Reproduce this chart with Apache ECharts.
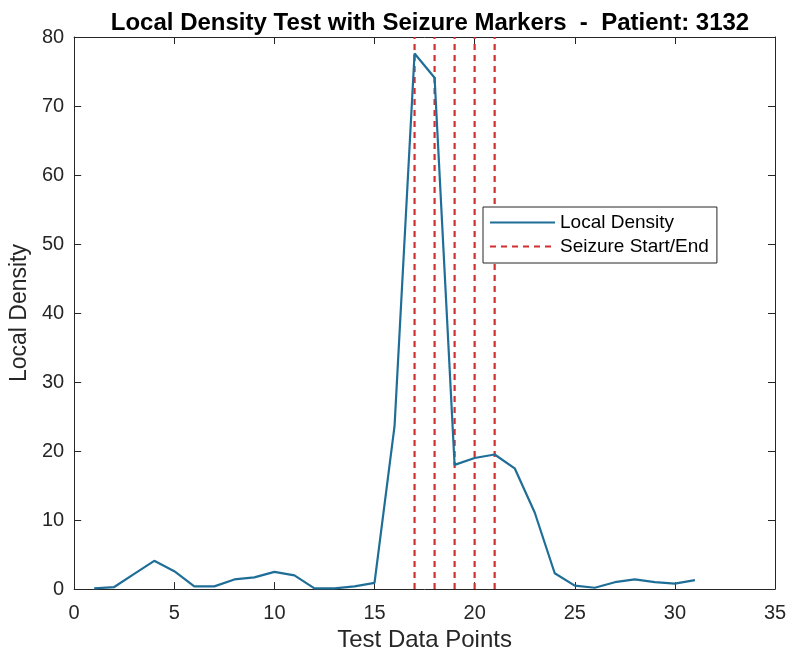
<!DOCTYPE html>
<html>
<head>
<meta charset="utf-8">
<script src="https://cdn.jsdelivr.net/npm/echarts@6/dist/echarts.min.js"></script>
<style>html,body{margin:0;padding:0;background:#fff;}#c{width:790px;height:657px;}</style>
</head>
<body>
<div id="c"></div>
<script>
var xPoints = [1,2,3,4,5,6,7,8,9,10,11,12,13,14,15,16,17,18,19,20,21,22,23,24,25,26,27,28,29,30,31];
var density = [0.1,0.3,2.2,4.1,2.6,0.4,0.4,1.4,1.7,2.5,2.0,0.1,0.1,0.4,0.9,23.6,77.6,74.1,18.0,19.0,19.5,17.5,11.1,2.3,0.5,0.2,1.0,1.4,1.0,0.8,1.3];
var seizureMarks = [17,18,19,20,21];
var xTicks = [0,5,10,15,20,25,30,35];
var yTicks = [0,10,20,30,40,50,60,70,80];

var FONT = 'Liberation Sans, Arial, sans-serif';
var axisColor = '#262626';
var series = [{
  name: 'Local Density',
  type: 'line',
  data: xPoints.map(function(x,i){return [x, density[i]];}),
  symbol: 'none',
  lineStyle: {color: '#1f6e98', width: 2.2},
  itemStyle: {color: '#1f6e98'},
  z: 3
}];
seizureMarks.forEach(function(m){
  series.push({
    name: 'Seizure Start/End',
    type: 'line',
    data: [[m, yTicks[0]], [m, yTicks[yTicks.length-1]]],
    symbol: 'none',
    lineStyle: {color: '#d0302f', width: 2.2, type: [6,5]},
    itemStyle: {color: '#d0302f'},
    z: 2
  });
});

function baseX(pos, show){
  return {
    type: 'value', position: pos, min: xTicks[0], max: xTicks[xTicks.length-1], interval: 5,
    axisLine: {show: true, onZero: false, lineStyle: {color: axisColor, width: 1}},
    axisTick: {show: true, inside: true, length: 7, lineStyle: {color: axisColor}},
    axisLabel: {show: show, color: '#262626', fontSize: 20, fontFamily: FONT, margin: 14},
    splitLine: {show: false}
  };
}
function baseY(pos, show){
  return {
    type: 'value', position: pos, min: yTicks[0], max: yTicks[yTicks.length-1], interval: 10,
    axisLine: {show: true, onZero: false, lineStyle: {color: axisColor, width: 1}},
    axisTick: {show: true, inside: true, length: 7, lineStyle: {color: axisColor}},
    axisLabel: {show: show, color: '#262626', fontSize: 20, fontFamily: FONT, margin: 10},
    splitLine: {show: false}
  };
}
var xa = baseX('bottom', true);
xa.name = 'Test Data Points'; xa.nameLocation = 'middle'; xa.nameGap = 34;
xa.nameTextStyle = {color: '#262626', fontSize: 24, fontFamily: FONT};
var ya = baseY('left', true);
ya.name = 'Local Density'; ya.nameLocation = 'middle'; ya.nameGap = 37;
ya.nameTextStyle = {color: '#262626', fontSize: 23, fontFamily: FONT};

var chart = echarts.init(document.getElementById('c'), null, {renderer: 'canvas'});
chart.setOption({
  backgroundColor: '#ffffff',
  animation: false,
  title: {
    text: 'Local Density Test with Seizure Markers  -  Patient: 3132',
    left: 425, textAlign: 'center', top: 6,
    textStyle: {color: '#000', fontSize: 24, fontWeight: 'bold', fontFamily: FONT}
  },
  grid: {left: 73, right: 15, top: 37, bottom: 65, containLabel: false},
  xAxis: [xa, baseX('top', false)],
  yAxis: [ya, baseY('right', false)],
  legend: {
    left: 483, top: 207, orient: 'vertical',
    data: ['Local Density', 'Seizure Start/End'],
    backgroundColor: '#fff', borderColor: '#262626', borderWidth: 1,
    padding: [6, 8, 7, 6], itemGap: 5, itemWidth: 65, itemHeight: 16,
    itemStyle: {opacity: 0},
    textStyle: {color: '#000', fontSize: 19, fontFamily: FONT}
  },
  series: series
});
</script>
</body>
</html>
